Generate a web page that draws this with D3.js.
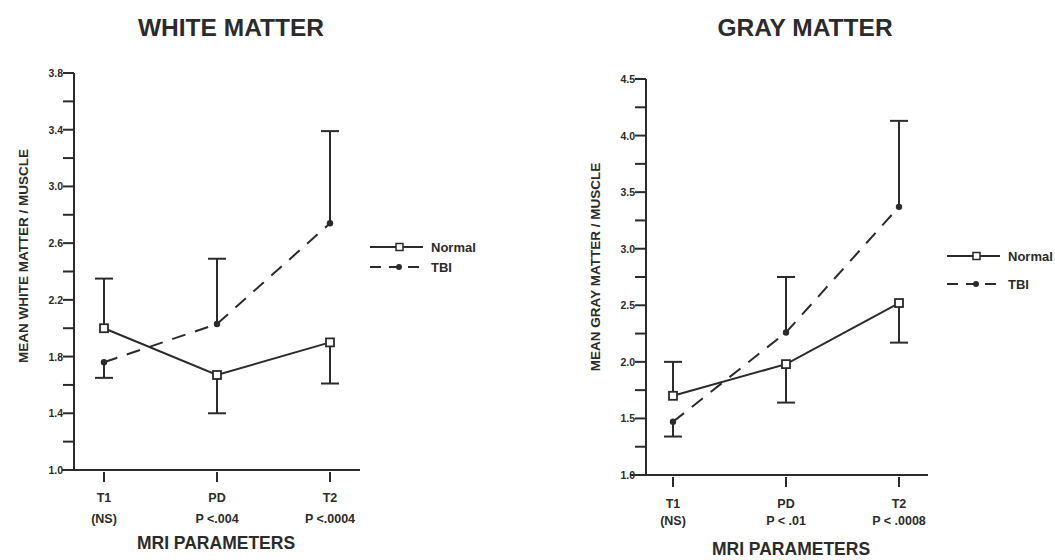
<!DOCTYPE html>
<html lang="en">
<head>
    <meta charset="UTF-8">
    <title>White / Gray Matter MRI</title>
    <script src="https://d3js.org/d3.v7.min.js"></script>
    <style>
        body, html {
            margin: 0;
            background: #ffffff;
            font-family: "Liberation Sans", Arial, sans-serif;
        }
        text {
            fill: #2b2b2b;
            font-weight: bold;
        }
    </style>
</head>
<body>
    <div id="chart"></div>
    <script>
        // Data
        const categories = ["T1", "PD", "T2"];
        const whitePLabels = ["(NS)", "P <.004", "P <.0004"];
        const grayPLabels = ["(NS)", "P < .01", "P < .0008"];

        const whiteNormal = [2.00, 1.67, 1.90];
        const whiteNormalErr = [2.35, 1.40, 1.61];
        const whiteTBI = [1.76, 2.03, 2.74];
        const whiteTBIErr = [1.65, 2.49, 3.39];

        const grayNormal = [1.70, 1.98, 2.52];
        const grayNormalErr = [2.00, 1.64, 2.17];
        const grayTBI = [1.47, 2.26, 3.37];
        const grayTBIErr = [1.34, 2.75, 4.13];

        const whiteTicks = d3.range(1.0, 3.81, 0.2);
        const grayTicks = d3.range(1.0, 4.51, 0.25);

        const ink = "#2b2b2b";
        const width = 1055, height = 560;

        const svg = d3.select("#chart").append("svg")
            .attr("width", width)
            .attr("height", height);

        function panel(opt) {
            const g = svg.append("g");
            const x = d3.scalePoint().domain(categories).range(opt.xRange);
            const y = d3.scaleLinear().domain(opt.yDomain).range(opt.yRange);

            // title
            g.append("text")
                .attr("x", opt.titleX).attr("y", 36)
                .attr("text-anchor", "middle")
                .style("font-size", "24.5px")
                .text(opt.title);

            // y axis (ticks on the left, labels every other tick)
            g.append("line")
                .attr("x1", opt.axisX).attr("x2", opt.axisX)
                .attr("y1", y(opt.yDomain[1])).attr("y2", y(opt.yDomain[0]))
                .attr("stroke", ink).attr("stroke-width", 2);
            opt.yTicks.forEach((t, i) => {
                g.append("line")
                    .attr("x1", opt.axisX - 11).attr("x2", opt.axisX)
                    .attr("y1", y(t)).attr("y2", y(t))
                    .attr("stroke", ink).attr("stroke-width", 2);
                if (i % 2 === 0) {
                    g.append("text")
                        .attr("x", opt.axisX - 11).attr("y", y(t) + 4)
                        .attr("text-anchor", "end")
                        .style("font-size", "10.5px")
                        .text(d3.format(".1f")(t));
                }
            });

            // x axis
            g.append("line")
                .attr("x1", opt.xAxisFrom).attr("x2", opt.xAxisTo)
                .attr("y1", y(opt.yDomain[0])).attr("y2", y(opt.yDomain[0]))
                .attr("stroke", ink).attr("stroke-width", 2);
            categories.forEach((c, i) => {
                const y0 = y(opt.yDomain[0]);
                g.append("line")
                    .attr("x1", x(c)).attr("x2", x(c))
                    .attr("y1", y0 + 2).attr("y2", y0 + 12)
                    .attr("stroke", ink).attr("stroke-width", 2);
                g.append("text")
                    .attr("x", x(c)).attr("y", opt.catY)
                    .attr("text-anchor", "middle")
                    .style("font-size", "12.5px")
                    .text(c);
                g.append("text")
                    .attr("x", x(c)).attr("y", opt.catY + opt.pGap)
                    .attr("text-anchor", "middle")
                    .style("font-size", "12.5px")
                    .text(opt.pLabels[i]);
            });

            g.append("text")
                .attr("x", opt.xTitleX).attr("y", opt.xTitleY)
                .attr("text-anchor", "middle")
                .style("font-size", "17.5px")
                .text("MRI PARAMETERS");

            g.append("text")
                .attr("transform", `translate(${opt.yTitleX},${opt.yTitleY}) rotate(-90)`)
                .attr("text-anchor", "middle")
                .style("font-size", "13.5px")
                .text(opt.yTitle);

            const line = d3.line().x((d, i) => x(categories[i])).y(d => y(d));

            // error bars (one-sided)
            [[opt.normal, opt.normalErr], [opt.tbi, opt.tbiErr]].forEach(([vals, errs]) => {
                vals.forEach((v, i) => {
                    const cx = x(categories[i]);
                    g.append("line")
                        .attr("x1", cx).attr("x2", cx)
                        .attr("y1", y(v)).attr("y2", y(errs[i]))
                        .attr("stroke", ink).attr("stroke-width", 2);
                    g.append("line")
                        .attr("x1", cx - 9).attr("x2", cx + 9)
                        .attr("y1", y(errs[i])).attr("y2", y(errs[i]))
                        .attr("stroke", ink).attr("stroke-width", 2);
                });
            });

            // TBI dashed line
            g.append("path")
                .attr("d", line(opt.tbi))
                .attr("fill", "none")
                .attr("stroke", ink).attr("stroke-width", 2)
                .attr("stroke-dasharray", "14,10");
            g.selectAll(null).data(opt.tbi).join("circle")
                .attr("cx", (d, i) => x(categories[i]))
                .attr("cy", d => y(d))
                .attr("r", 3.2)
                .attr("fill", ink);

            // Normal solid line
            g.append("path")
                .attr("d", line(opt.normal))
                .attr("fill", "none")
                .attr("stroke", ink).attr("stroke-width", 2);
            g.selectAll(null).data(opt.normal).join("rect")
                .attr("x", (d, i) => x(categories[i]) - 4)
                .attr("y", d => y(d) - 4)
                .attr("width", 8).attr("height", 8)
                .attr("fill", "#fff")
                .attr("stroke", ink).attr("stroke-width", 1.8);

            // legend
            const lx = opt.legendX, ly = opt.legendY;
            g.append("line")
                .attr("x1", lx).attr("x2", lx + 53)
                .attr("y1", ly).attr("y2", ly)
                .attr("stroke", ink).attr("stroke-width", 2);
            g.append("rect")
                .attr("x", lx + 26).attr("y", ly - 3.5)
                .attr("width", 7).attr("height", 7)
                .attr("fill", "#fff").attr("stroke", ink).attr("stroke-width", 1.5);
            g.append("text")
                .attr("x", lx + 61).attr("y", ly + 4.5)
                .style("font-size", "13px")
                .text("Normal");

            const ly2 = ly + opt.legendGap;
            g.append("line")
                .attr("x1", lx).attr("x2", lx + 53)
                .attr("y1", ly2).attr("y2", ly2)
                .attr("stroke", ink).attr("stroke-width", 2)
                .attr("stroke-dasharray", "11,8");
            g.append("circle")
                .attr("cx", lx + 29).attr("cy", ly2)
                .attr("r", 3).attr("fill", ink);
            g.append("text")
                .attr("x", lx + 61).attr("y", ly2 + 4.5)
                .style("font-size", "13px")
                .text("TBI");
        }

        panel({
            title: "WHITE MATTER", titleX: 231,
            yTitle: "MEAN WHITE MATTER / MUSCLE", yTitleX: 28, yTitleY: 256,
            xRange: [104, 330], yDomain: [1.0, 3.8], yRange: [470, 73], yTicks: whiteTicks,
            axisX: 74, xAxisFrom: 62, xAxisTo: 360,
            catY: 502, pGap: 21, pLabels: whitePLabels,
            xTitleX: 216, xTitleY: 549,
            normal: whiteNormal, normalErr: whiteNormalErr,
            tbi: whiteTBI, tbiErr: whiteTBIErr,
            legendX: 370, legendY: 247, legendGap: 20
        });

        panel({
            title: "GRAY MATTER", titleX: 805,
            yTitle: "MEAN GRAY MATTER / MUSCLE", yTitleX: 600, yTitleY: 267,
            xRange: [673, 899], yDomain: [1.0, 4.5], yRange: [475, 79], yTicks: grayTicks,
            axisX: 646, xAxisFrom: 630, xAxisTo: 928,
            catY: 508, pGap: 17, pLabels: grayPLabels,
            xTitleX: 791, xTitleY: 555,
            normal: grayNormal, normalErr: grayNormalErr,
            tbi: grayTBI, tbiErr: grayTBIErr,
            legendX: 947, legendY: 256, legendGap: 28
        });
    </script>
</body>
</html>
